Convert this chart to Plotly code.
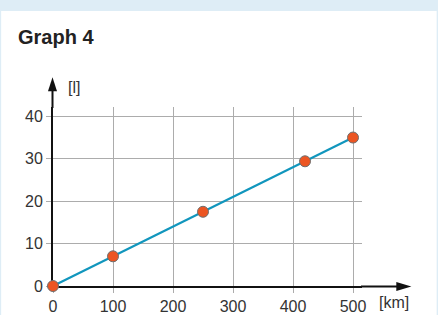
import plotly.graph_objects as go

# data
distance_km = [0, 100, 250, 420, 500]
fuel_l = [0, 7, 17.5, 29.4, 35]
x_ticks = [0, 100, 200, 300, 400, 500]
y_ticks = [0, 10, 20, 30, 40]

W, H = 438, 315
L, R, T, B = 53, 361.7, 106.7, 286

def px(xp):
    return (xp - L) / (R - L)

def py(yp):
    return (B - yp) / (B - T)

fig = go.Figure()
fig.add_trace(go.Scatter(
    x=distance_km, y=fuel_l, mode="lines+markers",
    line=dict(color="#1196bd", width=2.2),
    marker=dict(size=11, color="#ec5522", line=dict(color="#6f6f6f", width=1)),
    cliponaxis=False, hoverinfo="skip", showlegend=False,
))

font = "Liberation Sans, Arial, sans-serif"
axis_common = dict(
    showgrid=True, gridcolor="#acacac", gridwidth=1,
    zeroline=False, showline=True, linecolor="#111", linewidth=2,
    ticks="outside", ticklen=5, tickcolor="#acacac", tickwidth=1,
    tickfont=dict(family=font, size=16, color="#333"),
    layer="below traces", fixedrange=True, automargin=False,
)
fig.update_xaxes(range=[0, 515], tickvals=x_ticks, **axis_common)
fig.update_yaxes(range=[0, 42.2], tickvals=y_ticks, **axis_common)

shapes = []
# light blue frame
shapes.append(dict(type="rect", xref="paper", yref="paper",
                   x0=px(-5), x1=px(W + 5), y0=py(-5), y1=py(10.5),
                   fillcolor="#deedf6", line_width=0, layer="below"))
shapes.append(dict(type="rect", xref="paper", yref="paper",
                   x0=px(-5), x1=px(1.2), y0=py(H + 5), y1=py(-5),
                   fillcolor="#deedf6", line_width=0, layer="below"))
shapes.append(dict(type="rect", xref="paper", yref="paper",
                   x0=px(436.3), x1=px(W + 5), y0=py(H + 5), y1=py(-5),
                   fillcolor="#deedf6", line_width=0, layer="below"))
# axis extensions
shapes.append(dict(type="line", xref="paper", yref="paper",
                   x0=px(R - 1), x1=px(400), y0=py(B + 0.5), y1=py(B + 0.5),
                   line=dict(color="#111", width=2)))
shapes.append(dict(type="line", xref="paper", yref="paper",
                   x0=px(L - 0.5), x1=px(L - 0.5), y0=py(T + 1), y1=py(88),
                   line=dict(color="#111", width=2)))
# arrowheads
ax_tip, ay_ = 411, B + 0.5
shapes.append(dict(type="path", xref="paper", yref="paper",
                   path=f"M {px(ax_tip)} {py(ay_)} L {px(396)} {py(ay_ - 4.5)} L {px(396)} {py(ay_ + 4.5)} Z",
                   fillcolor="#111", line_width=0))
yx_, ytip = L - 0.5, 77
shapes.append(dict(type="path", xref="paper", yref="paper",
                   path=f"M {px(yx_)} {py(ytip)} L {px(yx_ - 4.5)} {py(91)} L {px(yx_ + 4.5)} {py(91)} Z",
                   fillcolor="#111", line_width=0))

annotations = [
    dict(text="<b>Graph 4</b>", xref="paper", yref="paper", x=px(16), y=py(37),
         xanchor="left", yanchor="middle", showarrow=False,
         font=dict(family=font, size=20, color="#222")),
    dict(text="[l]", xref="paper", yref="paper", x=px(66), y=py(87),
         xanchor="left", yanchor="middle", showarrow=False,
         font=dict(family=font, size=16, color="#333")),
    dict(text="[km]", xref="paper", yref="paper", x=px(377), y=py(303),
         xanchor="left", yanchor="middle", showarrow=False,
         font=dict(family=font, size=16, color="#333")),
]

fig.update_layout(
    width=W, height=H,
    margin=dict(l=L, r=W - R, t=T, b=H - B, pad=0, autoexpand=False),
    paper_bgcolor="white", plot_bgcolor="white",
    shapes=shapes, annotations=annotations, showlegend=False,
)
fig.write_html("out.html", config={"displayModeBar": False},
               post_script="document.body.style.margin='0';document.body.style.padding='0';")
